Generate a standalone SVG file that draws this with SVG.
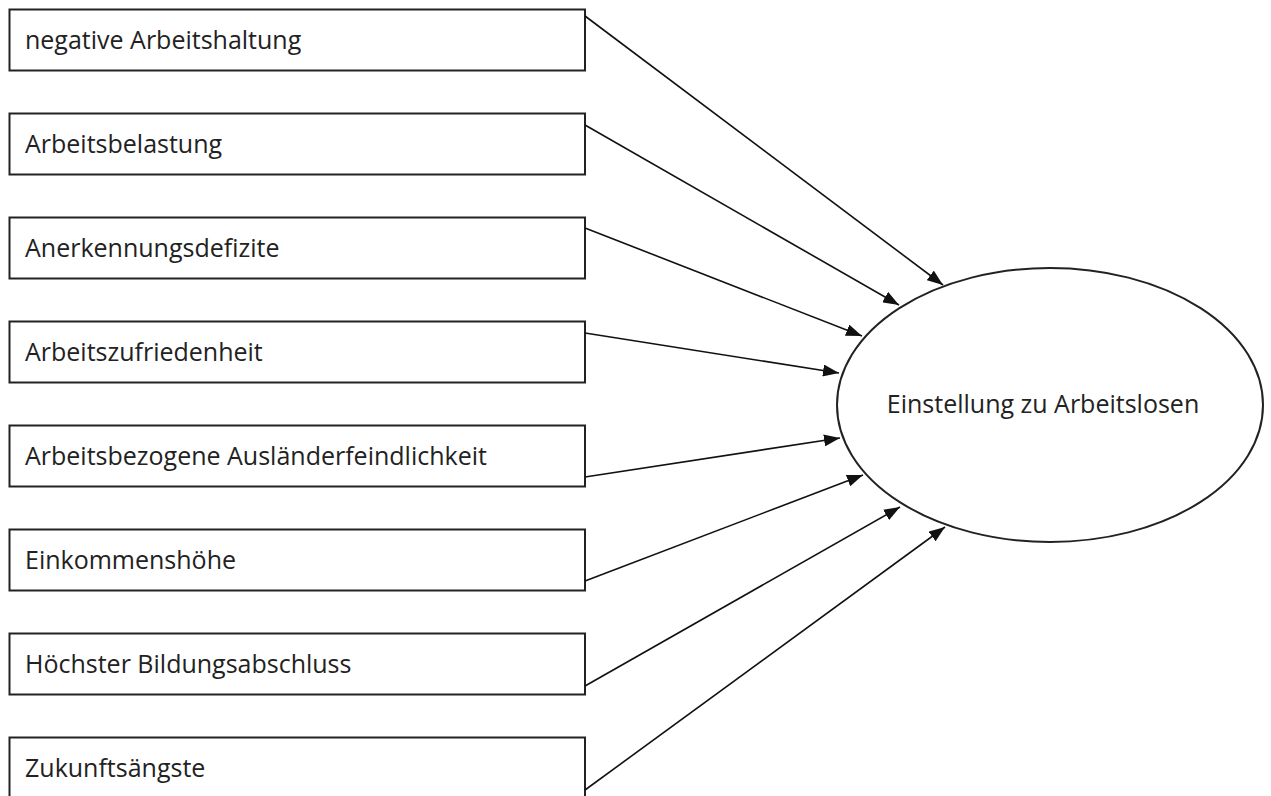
<svg xmlns="http://www.w3.org/2000/svg" width="1271" height="796" viewBox="0 0 1271 796">
<defs>
<style>
.box{fill:#fff;stroke:#222;stroke-width:2}
.lbl{font-family:"Open Sans","Liberation Sans",sans-serif;font-size:25px;fill:#222}
.edge{stroke:#111;stroke-width:1.6;fill:none;marker-end:url(#ah)}
</style>
<marker id="ah" markerUnits="userSpaceOnUse" markerWidth="18" markerHeight="12" refX="16" refY="6" orient="auto">
<path d="M0,0 L16,6 L0,12 Z" fill="#111"/>
</marker>
</defs>
<rect width="1271" height="796" fill="#fff"/>
<g id="n1"><rect class="box" x="9.5" y="9.5" width="575.5" height="61"/><text class="lbl" x="25" y="49">negative Arbeitshaltung</text></g>
<g id="n2"><rect class="box" x="9.5" y="113.5" width="575.5" height="61"/><text class="lbl" x="25" y="153">Arbeitsbelastung</text></g>
<g id="n3"><rect class="box" x="9.5" y="217.5" width="575.5" height="61"/><text class="lbl" x="25" y="257">Anerkennungsdefizite</text></g>
<g id="n4"><rect class="box" x="9.5" y="321.5" width="575.5" height="61"/><text class="lbl" x="25" y="361">Arbeitszufriedenheit</text></g>
<g id="n5"><rect class="box" x="9.5" y="425.5" width="575.5" height="61"/><text class="lbl" x="25" y="465">Arbeitsbezogene Ausländerfeindlichkeit</text></g>
<g id="n6"><rect class="box" x="9.5" y="529.5" width="575.5" height="61"/><text class="lbl" x="25" y="569">Einkommenshöhe</text></g>
<g id="n7"><rect class="box" x="9.5" y="633.5" width="575.5" height="61"/><text class="lbl" x="25" y="673">Höchster Bildungsabschluss</text></g>
<g id="n8"><rect class="box" x="9.5" y="737.5" width="575.5" height="70"/><text class="lbl" x="25" y="777">Zukunftsängste</text></g>
<g id="target"><ellipse class="box" cx="1050" cy="405" rx="213" ry="137"/><text class="lbl" x="1043" y="413" text-anchor="middle">Einstellung zu Arbeitslosen</text></g>
<g id="connectors">
<line class="edge" x1="585" y1="16" x2="943" y2="285"/>
<line class="edge" x1="585" y1="125" x2="899" y2="305"/>
<line class="edge" x1="585" y1="228" x2="862" y2="336"/>
<line class="edge" x1="585" y1="333" x2="839" y2="373"/>
<line class="edge" x1="585" y1="477" x2="840" y2="438"/>
<line class="edge" x1="585" y1="581" x2="863" y2="475"/>
<line class="edge" x1="585" y1="686" x2="900" y2="507"/>
<line class="edge" x1="585" y1="790" x2="945" y2="527"/>
</g>
</svg>
